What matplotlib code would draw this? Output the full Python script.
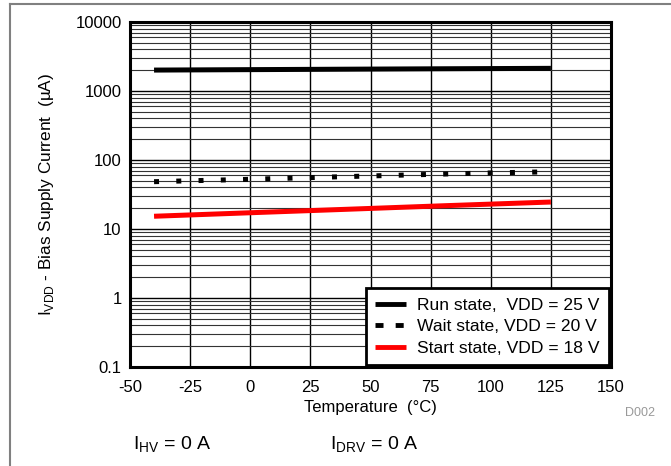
import numpy as np
import matplotlib
matplotlib.use("Agg")
import matplotlib.pyplot as plt
from matplotlib.lines import Line2D
from matplotlib.ticker import FixedLocator, LogLocator, NullFormatter

plt.rcParams["font.family"] = ["Liberation Sans", "DejaVu Sans"]
plt.rcParams["mathtext.fontset"] = "custom"
plt.rcParams["mathtext.rm"] = "Liberation Sans"
plt.rcParams["axes.unicode_minus"] = False

# ── Data ──────────────────────────────────────────────────────────────────────
temp = [-40, 0, 40, 80, 125]
run_ua = [2010, 2040, 2070, 2100, 2130]
wait_temp = [-40, -20, 0, 20, 40, 60, 80, 100, 120]
wait_ua = [48.5, 50.5, 52.5, 55, 57.5, 60, 62.5, 65, 67]
start_ua = [15.3, 17.2, 19.3, 21.7, 24.6]

x_ticks = [-50, -25, 0, 25, 50, 75, 100, 125, 150]
y_ticks = [0.1, 1, 10, 100, 1000, 10000]
y_labels = ["0.1", "1", "10", "100", "1000", "10000"]

# ── Figure ────────────────────────────────────────────────────────────────────
fig = plt.figure(figsize=(6.71, 4.66), dpi=100)
ax = fig.add_axes([130 / 671, 1 - 367 / 466, 481 / 671, 345 / 466])

ax.set_yscale("log")
ax.set_xlim(-50, 150)
ax.set_ylim(0.1, 10000)

ax.xaxis.set_major_locator(FixedLocator(x_ticks))
ax.yaxis.set_major_locator(FixedLocator(y_ticks))
ax.set_yticklabels(y_labels)
ax.yaxis.set_minor_locator(LogLocator(base=10, subs=np.arange(2, 10)))
ax.yaxis.set_minor_formatter(NullFormatter())
ax.tick_params(which="both", length=0, labelsize=12)
ax.tick_params(axis="x", pad=9)
ax.tick_params(axis="y", pad=6)

ax.grid(True, which="major", color="black", lw=1.0)
ax.grid(True, which="minor", axis="y", color="#333333", lw=0.8)
ax.set_axisbelow(True)
for sp in ax.spines.values():
    sp.set_linewidth(2.2)
    sp.set_zorder(10)

# Series
ax.plot(temp, run_ua, color="black", lw=3.6, solid_capstyle="butt", zorder=3)
ax.plot(wait_temp, wait_ua, color="black", lw=3.6, linestyle=(0, (1.0, 3.45)),
        dash_capstyle="butt", zorder=3)
ax.plot(temp, start_ua, color="#ff0000", lw=3.6, solid_capstyle="butt", zorder=3)

handles = [
    Line2D([], [], color="black", lw=3.5, solid_capstyle="butt"),
    Line2D([], [], color="black", lw=3.5, linestyle=(0, (1.65, 2.5)), dash_capstyle="butt"),
    Line2D([], [], color="#ff0000", lw=3.5, solid_capstyle="butt"),
]
labels = ["Run state,  VDD = 25 V", "Wait state, VDD = 20 V", "Start state, VDD = 18 V"]
leg = ax.legend(handles, labels, loc="lower right", fontsize=12.6, frameon=True,
                fancybox=False, framealpha=1, edgecolor="black",
                borderaxespad=0.1, handlelength=1.75, handletextpad=0.65,
                labelspacing=0.35, borderpad=0.55)
leg.get_frame().set_linewidth(2)
leg.set_zorder(12)

ax.set_xlabel("Temperature  (°C)", fontsize=12, labelpad=4)
ax.set_ylabel("I$_\\mathregular{VDD}$ - Bias Supply Current  (µA)", fontsize=12.4, labelpad=14)

fig.text(640 / 671, 1 - 413 / 466, "D002", fontsize=9, color="#999999",
         ha="center", va="center")
fig.text(133 / 671, 1 - 445 / 466, "I$_\\mathregular{HV}$ = 0 A", fontsize=14,
         ha="left", va="center")
fig.text(330 / 671, 1 - 445 / 466, "I$_\\mathregular{DRV}$ = 0 A", fontsize=14,
         ha="left", va="center")

# Outer page frame (top and left edges)
fig.add_artist(Line2D([10 / 671, 1], [1 - 4 / 466, 1 - 4 / 466],
                      color="#808080", lw=1.5, transform=fig.transFigure))
fig.add_artist(Line2D([10 / 671, 10 / 671], [0, 1 - 4 / 466],
                      color="#808080", lw=1.5, transform=fig.transFigure))

fig.savefig("out.png", dpi=100)
